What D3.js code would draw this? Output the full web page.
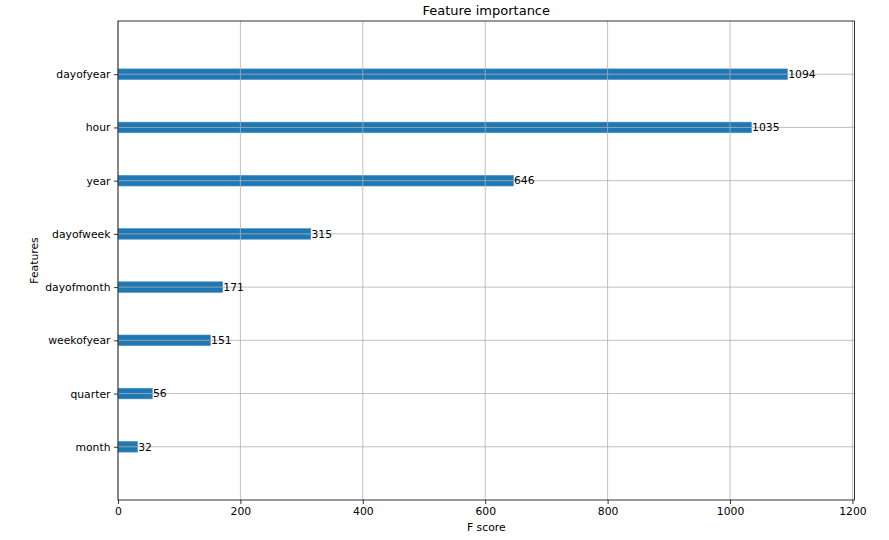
<!DOCTYPE html>
<html>
<head>
<meta charset="utf-8">
<script src="https://cdn.jsdelivr.net/npm/d3@7"></script>
<style>
  body { margin: 0; background: #fff; }
  svg { display: block; font-family: "DejaVu Sans", sans-serif; }
</style>
</head>
<body>
<svg id="chart" width="889" height="540"></svg>
<script>
const features = ["month", "quarter", "weekofyear", "dayofmonth", "dayofweek", "year", "hour", "dayofyear"];
const scores = [32, 56, 151, 171, 315, 646, 1035, 1094];
const xTicks = [0, 200, 400, 600, 800, 1000, 1200];
const titleText = "Feature importance";
const xLabel = "F score";
const yLabel = "Features";

const svg = d3.select("#chart");
const m = { left: 118, right: 889 - 854.5, top: 21, bottom: 540 - 500 };
const W = 889, H = 540;
const pw = W - m.left - m.right, ph = H - m.top - m.bottom;

const x = d3.scaleLinear().domain([0, d3.max(scores) * 1.1]).range([m.left, m.left + pw]);
const y = d3.scaleLinear().domain([-1, features.length]).range([m.top + ph, m.top]);
const barH = Math.abs(y(0.1) - y(-0.1));
const fs = 10.8;

// bars
svg.append("g").selectAll("rect").data(scores).join("rect")
  .attr("x", x(0))
  .attr("y", (d, i) => y(i) - barH / 2)
  .attr("width", d => x(d) - x(0))
  .attr("height", barH)
  .attr("fill", "#1f77b4")
  .attr("stroke", "#4a93c6")
  .attr("stroke-width", 0.6);

// grid (drawn over bars)
const grid = svg.append("g").attr("stroke", "#b0b0b0").attr("stroke-width", 0.8);
grid.selectAll("line.v").data(xTicks).join("line").attr("class", "v")
  .attr("x1", d => x(d)).attr("x2", d => x(d))
  .attr("y1", m.top).attr("y2", m.top + ph);
grid.selectAll("line.h").data(features.map((f, i) => i)).join("line").attr("class", "h")
  .attr("x1", m.left).attr("x2", m.left + pw)
  .attr("y1", d => y(d)).attr("y2", d => y(d));

// value labels
svg.append("g").selectAll("text").data(scores).join("text")
  .attr("x", d => x(d + 1))
  .attr("y", (d, i) => y(i))
  .attr("dy", "0.35em")
  .attr("font-size", fs)
  .attr("fill", "#000")
  .text(d => d);

// axes
const xAxis = d3.axisBottom(x).tickValues(xTicks).tickSize(4).tickPadding(3.5).tickFormat(d3.format("d"));
const gx = svg.append("g").attr("transform", `translate(0,${m.top + ph})`).call(xAxis);
const yAxis = d3.axisLeft(y).tickValues(features.map((f, i) => i)).tickSize(4).tickPadding(3.5).tickFormat(i => features[i]);
const gy = svg.append("g").attr("transform", `translate(${m.left},0)`).call(yAxis);
[gx, gy].forEach(g => {
  g.select(".domain").remove();
  g.selectAll("line").attr("stroke", "#000").attr("stroke-width", 0.8);
  g.selectAll("text").attr("font-size", fs).attr("fill", "#000").attr("font-family", "DejaVu Sans, sans-serif");
});

// spines
svg.append("rect")
  .attr("x", m.left).attr("y", m.top).attr("width", pw).attr("height", ph)
  .attr("fill", "none").attr("stroke", "#000").attr("stroke-width", 0.8);

// title & labels
svg.append("text").attr("x", m.left + pw / 2).attr("y", m.top - 6)
  .attr("text-anchor", "middle").attr("font-size", 13).attr("fill", "#000").text(titleText);
svg.append("text").attr("x", m.left + pw / 2).attr("y", 531)
  .attr("text-anchor", "middle").attr("font-size", fs).attr("fill", "#000").text(xLabel);
svg.append("text").attr("transform", `translate(38,${m.top + ph / 2}) rotate(-90)`)
  .attr("text-anchor", "middle").attr("font-size", fs).attr("fill", "#000").text(yLabel);
</script>
</body>
</html>
